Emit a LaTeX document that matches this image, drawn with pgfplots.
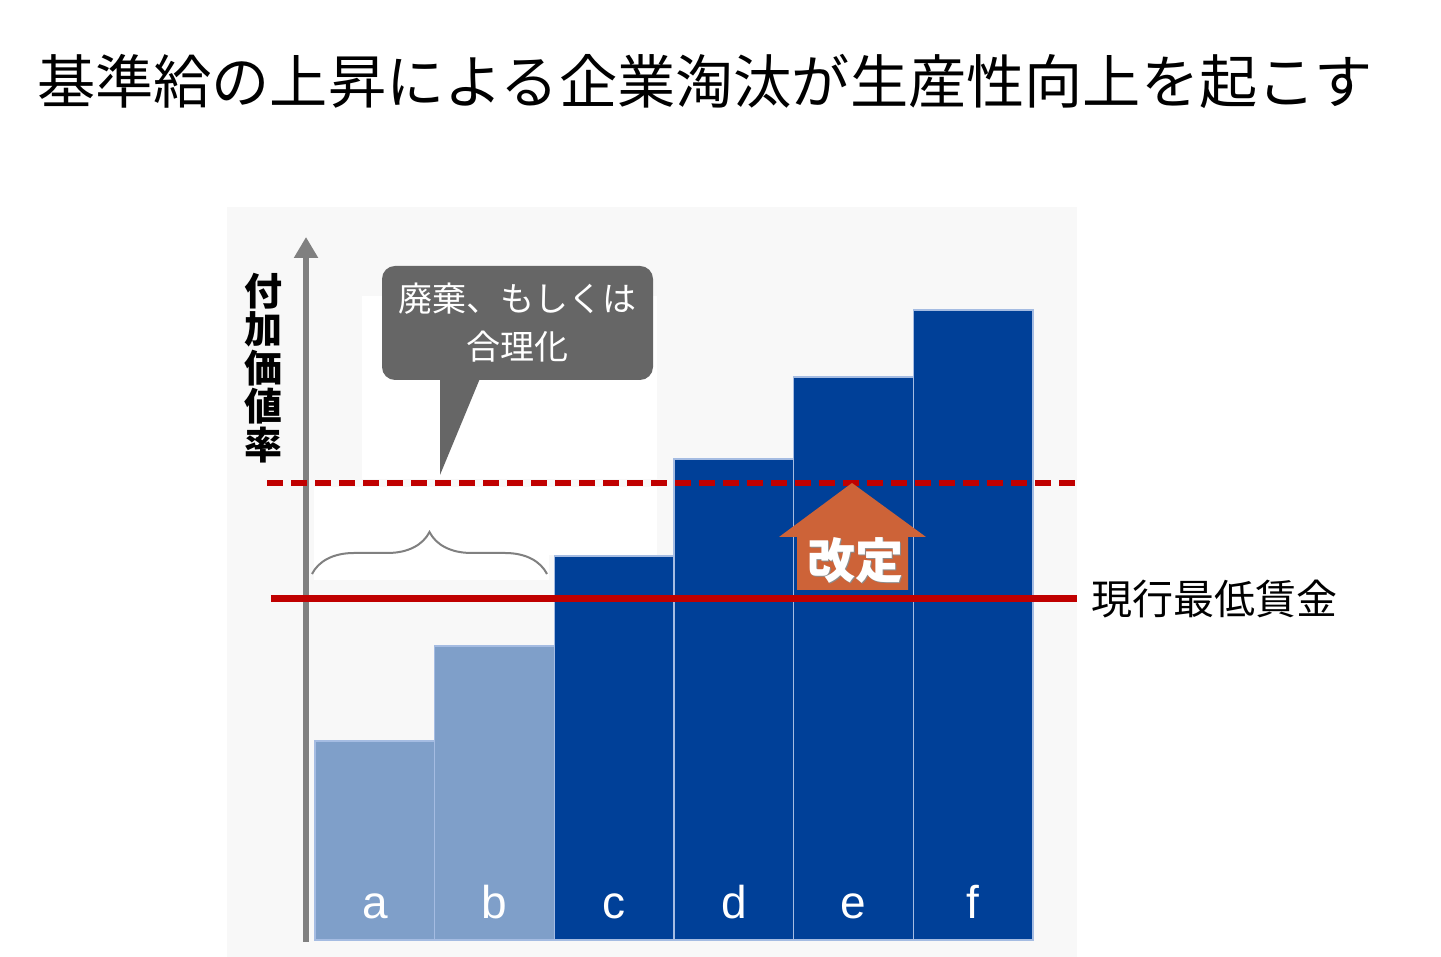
\documentclass[border=0pt]{standalone}
\usepackage{pgfplots}
\pgfplotsset{compat=1.18}
\usepackage{fontspec}
\usetikzlibrary{arrows.meta,decorations.pathreplacing}
\newfontfamily\cjk{Noto Sans CJK JP}
\newfontfamily\arial{Liberation Sans}
\definecolor{bggray}{RGB}{248,248,248}
\definecolor{lightbar}{RGB}{127,159,201}
\definecolor{darkbar}{RGB}{0,64,152}
\definecolor{sepline}{RGB}{165,188,226}
\definecolor{minred}{RGB}{192,0,0}
\definecolor{axgray}{RGB}{128,128,128}
\definecolor{callgray}{RGB}{102,102,102}
\definecolor{orng}{RGB}{205,99,56}
\begin{document}
\begin{tikzpicture}[x=0.5pt,y=0.5pt]
% canvas in pixels of the reference (origin bottom left)
\path[use as bounding box] (0,0) rectangle (1441,957);

\begin{axis}[at={(113.5pt,0pt)}, anchor=south west, scale only axis,
    width=425pt, height=375pt,
    xmin=-1.2354, xmax=5.8677, ymin=-17, ymax=733,
    axis line style={draw=none}, xtick=\empty, ytick=\empty,
    axis background/.style={fill=bggray}, clip=false]
  % value-added rate of firms a..f
  \addplot[ybar, bar width=1, bar shift=0pt, fill=lightbar, draw=sepline, line width=0.6pt]
    coordinates {(0,199) (1,294)};
  \addplot[ybar, bar width=1, bar shift=0pt, fill=darkbar, draw=sepline, line width=0.6pt]
    coordinates {(2,384) (3,481) (4,563) (5,630)};
  % y axis arrow
  \addplot[axgray, line width=3pt, -{Triangle[length=10.5pt,width=11.5pt]}]
    coordinates {(-0.575,-2) (-0.575,703)};
  % current minimum wage and revised level
  \addplot[minred, line width=3.5pt] coordinates {(-0.868,341) (5.8677,341)};
  \addplot[minred, line width=2.8pt, dash pattern=on 8pt off 4pt]
    coordinates {(-0.901,457) (5.8677,457)};
  \foreach \i/\l in {0/a,1/b,2/c,3/d,4/e,5/f}{
    \edef\tmp{\noexpand\node[white, anchor=base, font=\noexpand\arial\noexpand\fontsize{23}{23}\noexpand\selectfont]
      at (axis cs:\i,21) {\l};}\tmp
  }
\end{axis}

% lighter patches of the background around the callout and brace
\fill[white] (314,447) rectangle (657,470);
\fill[white] (362,478) rectangle (657,661);
\fill[white] (314,377) rectangle (549,447);
\fill[white] (549,402) rectangle (657,447);

% title
\node[anchor=west, font=\cjk\fontsize{29.1}{30}\selectfont] at (30,876)
  {基準給の上昇による企業淘汰が生産性向上を起こす};

% y label
\node[font=\cjk\bfseries\fontsize{19}{19.2}\selectfont, align=center, inner sep=0pt]
  at (263,589) {付\\加\\価\\値\\率};

% callout
\fill[callgray, rounded corners=6.5pt] (382,577) rectangle (653,691);
\fill[callgray] (440,581) -- (481,581) -- (440,482) -- cycle;
\node[white, font=\cjk\fontsize{17}{24}\selectfont, align=center] at (517,634)
  {廃棄、もしくは\\合理化};

% brace over a, b
\draw[axgray, line width=1pt, decorate, decoration={brace, amplitude=21pt}]
  (312,383) -- (547,383);

% revision arrow
\fill[orng] (779,420) -- (852,474) -- (926,420) -- (908,420) -- (908,367)
  -- (797,367) -- (797,420) -- cycle;
\node[black!45, font=\cjk\bfseries\fontsize{24}{24}\selectfont] at (856.5,395.5) {改定};
\node[white, font=\cjk\bfseries\fontsize{24}{24}\selectfont] at (855,397) {改定};

% label of the solid line
\node[anchor=west, font=\cjk\fontsize{20.5}{24}\selectfont] at (1084,358) {現行最低賃金};
\end{tikzpicture}
\end{document}
